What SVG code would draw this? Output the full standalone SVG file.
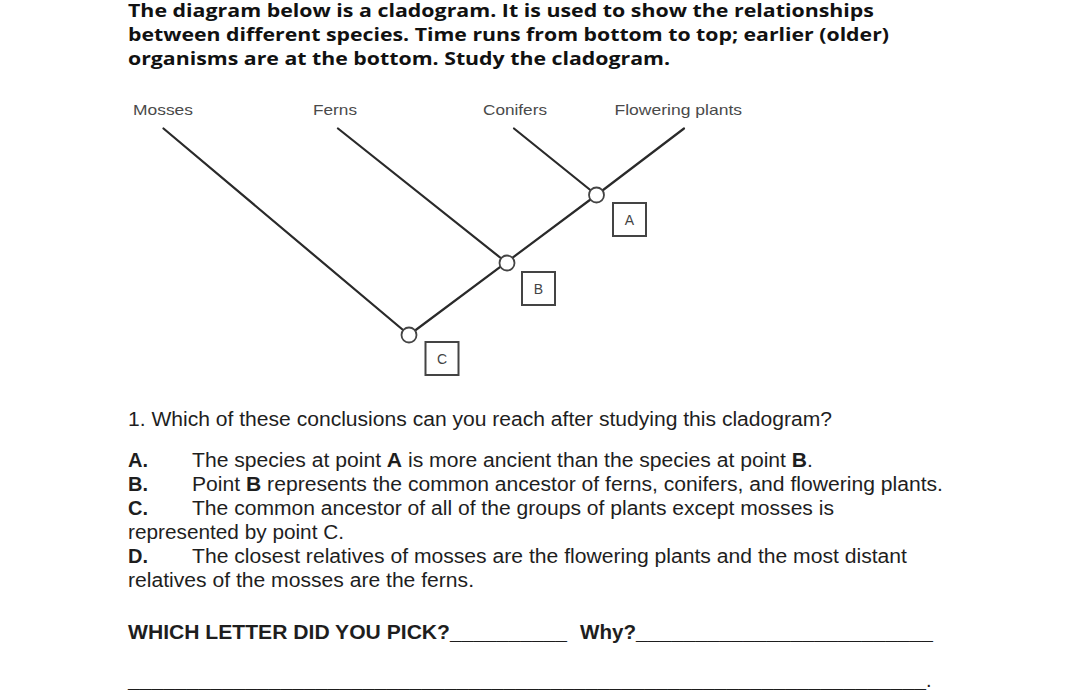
<svg xmlns="http://www.w3.org/2000/svg" width="1080" height="698" viewBox="0 0 1080 698">
  <style>
    .title { font-family: "Open Sans", "Liberation Sans", sans-serif; font-weight: 700; font-size: 17.5px; fill: #111; }
    .label { font-family: "Liberation Sans", Arial, sans-serif; font-size: 15px; fill: #4a4a4a; }
    .body { font-family: "Liberation Sans", Arial, sans-serif; font-size: 20px; fill: #1e1e1e; }
    .b { font-weight: 700; }
    .branch { stroke: #2a2a2a; stroke-width: 2.2; fill: none; stroke-linecap: round; }
    .node { fill: #fff; stroke: #444; stroke-width: 1.8; }
    .box { fill: #fff; stroke: #444; stroke-width: 2; }
    .boxlabel { font-family: "Liberation Sans", Arial, sans-serif; font-size: 14px; fill: #444; text-anchor: middle; }
  </style>
  <rect width="1080" height="698" fill="#fff"/>

  <g id="intro">
    <text class="title" x="128" y="17" textLength="746" lengthAdjust="spacingAndGlyphs">The diagram below is a cladogram. It is used to show the relationships</text>
    <text class="title" x="128" y="41" textLength="761" lengthAdjust="spacingAndGlyphs">between different species. Time runs from bottom to top; earlier (older)</text>
    <text class="title" x="128" y="65" textLength="542" lengthAdjust="spacingAndGlyphs">organisms are at the bottom. Study the cladogram.</text>
  </g>

  <g id="connectors">
    <line class="branch" x1="163.5" y1="128.5" x2="409" y2="335"/>
    <line class="branch" x1="338" y1="128.5" x2="507" y2="263"/>
    <line class="branch" x1="514" y1="128.5" x2="596.5" y2="195"/>
    <line class="branch" x1="684" y1="128.5" x2="596.5" y2="195"/>
    <line class="branch" x1="409" y1="335" x2="596.5" y2="195"/>
  </g>

  <g id="taxon-mosses"><text class="label" x="133" y="115" textLength="60" lengthAdjust="spacingAndGlyphs">Mosses</text></g>
  <g id="taxon-ferns"><text class="label" x="313" y="115" textLength="44" lengthAdjust="spacingAndGlyphs">Ferns</text></g>
  <g id="taxon-conifers"><text class="label" x="483" y="115" textLength="64" lengthAdjust="spacingAndGlyphs">Conifers</text></g>
  <g id="taxon-flowering"><text class="label" x="614.5" y="115" textLength="127.5" lengthAdjust="spacingAndGlyphs">Flowering plants</text></g>

  <g id="node-A">
    <circle class="node" cx="596.5" cy="195" r="7.5"/>
    <rect class="box" x="613" y="203" width="33" height="33"/>
    <text class="boxlabel" x="629.5" y="224.5">A</text>
  </g>
  <g id="node-B">
    <circle class="node" cx="507" cy="263" r="7.5"/>
    <rect class="box" x="522" y="272" width="33" height="33"/>
    <text class="boxlabel" x="538.5" y="293.5">B</text>
  </g>
  <g id="node-C">
    <circle class="node" cx="409" cy="335" r="7.5"/>
    <rect class="box" x="425.5" y="342" width="33" height="33"/>
    <text class="boxlabel" x="442" y="363.5">C</text>
  </g>

  <g id="question">
    <text class="body" x="128" y="426" textLength="704" lengthAdjust="spacingAndGlyphs">1. Which of these conclusions can you reach after studying this cladogram?</text>

    <text class="body b" x="128" y="467">A.</text>
    <text class="body" x="192" y="467" textLength="621" lengthAdjust="spacingAndGlyphs">The species at point <tspan class="b">A</tspan> is more ancient than the species at point <tspan class="b">B</tspan>.</text>

    <text class="body b" x="128" y="491">B.</text>
    <text class="body" x="192" y="491" textLength="751" lengthAdjust="spacingAndGlyphs">Point <tspan class="b">B</tspan> represents the common ancestor of ferns, conifers, and flowering plants.</text>

    <text class="body b" x="128" y="515">C.</text>
    <text class="body" x="192" y="515" textLength="642" lengthAdjust="spacingAndGlyphs">The common ancestor of all of the groups of plants except mosses is</text>
    <text class="body" x="128" y="539" textLength="216" lengthAdjust="spacingAndGlyphs">represented by point C.</text>

    <text class="body b" x="128" y="563">D.</text>
    <text class="body" x="192" y="563" textLength="715" lengthAdjust="spacingAndGlyphs">The closest relatives of mosses are the flowering plants and the most distant</text>
    <text class="body" x="128" y="587" textLength="346" lengthAdjust="spacingAndGlyphs">relatives of the mosses are the ferns.</text>
  </g>

  <g id="answer">
    <text class="body b" x="128" y="639" textLength="322" lengthAdjust="spacingAndGlyphs">WHICH LETTER DID YOU PICK?</text>
    <text class="body b" x="450" y="639" textLength="117" lengthAdjust="spacingAndGlyphs">__________</text>
    <text class="body b" x="580" y="639" textLength="56" lengthAdjust="spacingAndGlyphs">Why?</text>
    <text class="body b" x="636" y="639" textLength="297" lengthAdjust="spacingAndGlyphs">_________________________</text>
    <text class="body b" x="128" y="686.5" textLength="798" lengthAdjust="spacingAndGlyphs">____________________________________________________________________</text>
    <text class="body" x="926" y="686.5">.</text>
  </g>
</svg>
